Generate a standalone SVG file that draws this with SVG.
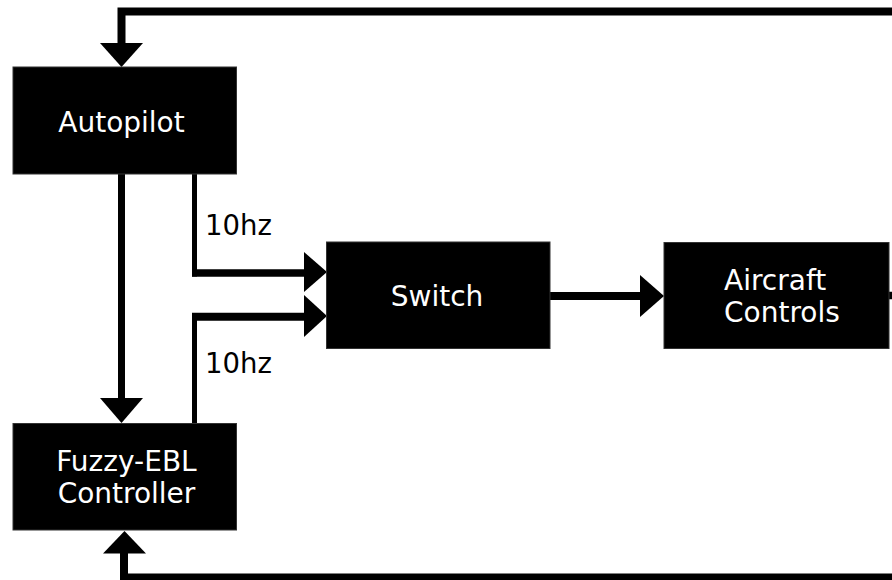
<svg xmlns="http://www.w3.org/2000/svg" width="892" height="580" viewBox="0 0 892 580">
<style>
.box{fill:#000;stroke:#333;stroke-width:1}
.t{font-family:"DejaVu Sans",sans-serif;font-size:28px;fill:#fff;text-anchor:middle}
.ts{font-family:"DejaVu Sans",sans-serif;font-size:28px;fill:#fff;text-anchor:start}
.lbl{font-family:"DejaVu Sans",sans-serif;font-size:27.5px;fill:#000}
.ln{stroke:#000;fill:none;stroke-linecap:butt;stroke-linejoin:miter}
.ah{fill:#000}
</style>
<rect width="892" height="580" fill="#fff"/>
<g id="connectors">
<path class="ln" d="M892,11.5 H121.5 V44" stroke-width="8"/>
<polygon class="ah" points="100,43 143,43 121.5,67"/>
<line class="ln" x1="121.5" y1="174" x2="121.5" y2="399" stroke-width="7"/>
<polygon class="ah" points="100,398 143,398 121.5,423"/>
<line class="ln" x1="194.5" y1="174" x2="194.5" y2="276.5" stroke-width="5"/>
<line class="ln" x1="192" y1="273" x2="305" y2="273" stroke-width="7.5"/>
<polygon class="ah" points="304,252 304,292 327,272"/>
<line class="ln" x1="194.5" y1="423" x2="194.5" y2="313" stroke-width="5"/>
<line class="ln" x1="192" y1="316.7" x2="305" y2="316.7" stroke-width="8"/>
<polygon class="ah" points="304,295 304,337 327,316"/>
<line class="ln" x1="550" y1="296" x2="641" y2="296" stroke-width="8"/>
<polygon class="ah" points="640,275 640,317 664,296"/>
<line class="ln" x1="888" y1="295.5" x2="892" y2="295.5" stroke-width="7.5"/>
<path class="ln" d="M892,577.5 H124 V552" stroke-width="8"/>
<polygon class="ah" points="103,553.5 146,553.5 124.5,531"/>
<text class="lbl" x="205" y="235">10hz</text>
<text class="lbl" x="205" y="373">10hz</text>
</g>
<g id="autopilot">
<rect class="box" x="13" y="67" width="223.5" height="107"/>
<text class="t" x="121.5" y="132">Autopilot</text>
</g>
<g id="switch">
<rect class="box" x="326.5" y="242" width="223.5" height="106.5"/>
<text class="t" x="437" y="305.5">Switch</text>
</g>
<g id="aircraft-controls">
<rect class="box" x="664" y="242.5" width="225" height="106"/>
<text class="ts" x="724" y="290">Aircraft</text>
<text class="ts" x="724" y="321.5">Controls</text>
</g>
<g id="fuzzy-ebl">
<rect class="box" x="13" y="423.5" width="223.5" height="106.5"/>
<text class="t" x="126.5" y="470.5">Fuzzy-EBL</text>
<text class="t" x="126.5" y="502.5">Controller</text>
</g>
</svg>
